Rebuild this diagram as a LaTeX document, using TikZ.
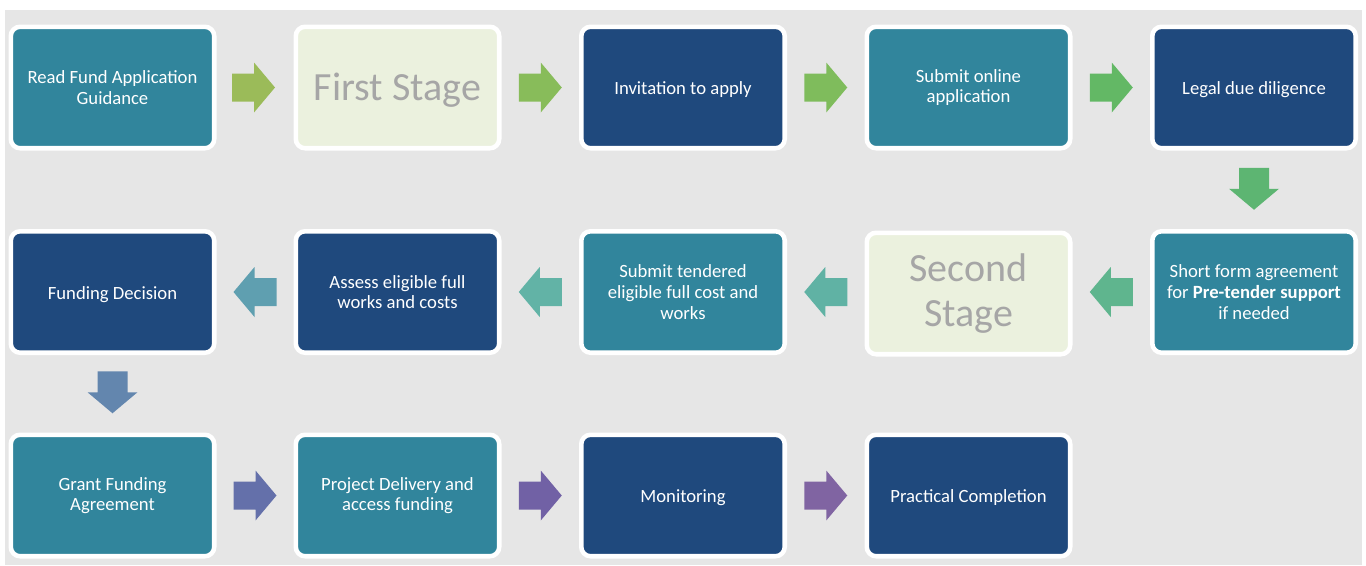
\documentclass[tikz,border=0pt]{standalone}
\usepackage{fontspec}
\setmainfont{Carlito}
\usetikzlibrary{calc}
\definecolor{bggray}{HTML}{E6E6E6}
\definecolor{tealbox}{HTML}{31859C}
\definecolor{darkbox}{HTML}{1F497D}
\definecolor{lightbox}{HTML}{EBF1DE}
\definecolor{stagetext}{HTML}{A6A6A6}
\definecolor{ca1}{HTML}{9BBB59}
\definecolor{ca2}{HTML}{88BC5A}
\definecolor{ca3}{HTML}{7FBC5C}
\definecolor{ca4}{HTML}{63B865}
\definecolor{ca5}{HTML}{5DB572}
\definecolor{ca6}{HTML}{5FB58E}
\definecolor{ca7}{HTML}{60B2A4}
\definecolor{ca8}{HTML}{62B3A6}
\definecolor{ca9}{HTML}{5F9FB0}
\definecolor{ca10}{HTML}{6386AE}
\definecolor{ca11}{HTML}{6470AA}
\definecolor{ca12}{HTML}{7161A5}
\definecolor{ca13}{HTML}{8064A2}
\tikzset{
  box/.style={draw=white, line width=3.4pt, rounded corners=7pt,
    minimum width=152.6pt, minimum height=91.1pt, inner sep=0pt,
    align=center, text=white, font=\fontsize{14}{15.5}\selectfont,
    execute at begin node={\rule{0pt}{13.3pt}}},
  tealstep/.style={box, fill=tealbox},
  darkstep/.style={box, fill=darkbox},
  stagestep/.style={box, fill=lightbox, text=stagetext, font=\fontsize{30}{34}\selectfont,
    execute at begin node={\rule{0pt}{24.5pt}}},
  rarr/.pic={\fill (-21.5,-14) -- (0.5,-14) -- (0.5,-25) -- (21.5,0) -- (0.5,25) -- (0.5,14) -- (-21.5,14) -- cycle;},
  larr/.pic={\fill (21.5,-14) -- (-0.5,-14) -- (-0.5,-25) -- (-21.5,0) -- (-0.5,25) -- (-0.5,14) -- (21.5,14) -- cycle;},
  darr/.pic={\fill (-15,-21) -- (-15,0) -- (-25,0) -- (0,21) -- (25,0) -- (15,0) -- (15,-21) -- cycle;}
}
\begin{document}
\begin{tikzpicture}[x=0.75pt,y=-0.75pt]
\useasboundingbox (0,0) rectangle (1366,565);
\fill[bggray] (5,10) rectangle (1362,565);
% row 1
\node[tealstep] (b1) at (112.5,87.5) {Read Fund Application\\Guidance};
\node[stagestep] (b2) at (397.5,87.5) {First Stage};
\node[darkstep] (b3) at (683,87.5) {Invitation to apply};
\node[tealstep] (b4) at (968.5,87.5) {Submit online\\application};
\node[darkstep] (b5) at (1254,87.5) {Legal due diligence};
% row 2
\node[tealstep] (c5) at (1254,292) {Short form agreement\\for \textbf{Pre-tender support}\\if needed};
\node[stagestep] (c4) at (968.5,293.5) {Second\\Stage};
\node[tealstep] (c3) at (683,292) {Submit tendered\\eligible full cost and\\works};
\node[darkstep] (c2) at (397.5,292) {Assess eligible full\\works and costs};
\node[darkstep] (c1) at (112.5,292) {Funding Decision};
% row 3
\node[tealstep] (d1) at (112.5,495.5) {Grant Funding\\Agreement};
\node[tealstep] (d2) at (397.5,495.5) {Project Delivery and\\access funding};
\node[darkstep] (d3) at (683,495.5) {Monitoring};
\node[darkstep] (d4) at (968.5,495.5) {Practical Completion};
% arrow positions
\coordinate (a1) at ($(b1)!0.5!(b2)+(-1.5,0)$);
\coordinate (a2) at ($(b2)!0.5!(b3)$);
\coordinate (a3) at ($(b3)!0.5!(b4)$);
\coordinate (a4) at ($(b4)!0.5!(b5)$);
\coordinate (a5) at ($(b5)!0.5!(c5)+(0,-1)$);
\coordinate (a6) at ($(c5)!0.5!(c4)+(0,-0.75)$);
\coordinate (a7) at ($(c4)!0.5!(c3)+(0,-0.75)$);
\coordinate (a8) at ($(c3)!0.5!(c2)$);
\coordinate (a9) at ($(c2)!0.5!(c1)$);
\coordinate (a10) at ($(c1)!0.5!(d1)+(0,-1.5)$);
\coordinate (a11) at ($(d1)!0.5!(d2)$);
\coordinate (a12) at ($(d2)!0.5!(d3)$);
\coordinate (a13) at ($(d3)!0.5!(d4)$);
% arrows
\pic[fill=ca1] at (a1) {rarr};
\pic[fill=ca2] at (a2) {rarr};
\pic[fill=ca3] at (a3) {rarr};
\pic[fill=ca4] at (a4) {rarr};
\pic[fill=ca5] at (a5) {darr};
\pic[fill=ca6] at (a6) {larr};
\pic[fill=ca7] at (a7) {larr};
\pic[fill=ca8] at (a8) {larr};
\pic[fill=ca9] at (a9) {larr};
\pic[fill=ca10] at (a10) {darr};
\pic[fill=ca11] at (a11) {rarr};
\pic[fill=ca12] at (a12) {rarr};
\pic[fill=ca13] at (a13) {rarr};
\end{tikzpicture}
\end{document}
